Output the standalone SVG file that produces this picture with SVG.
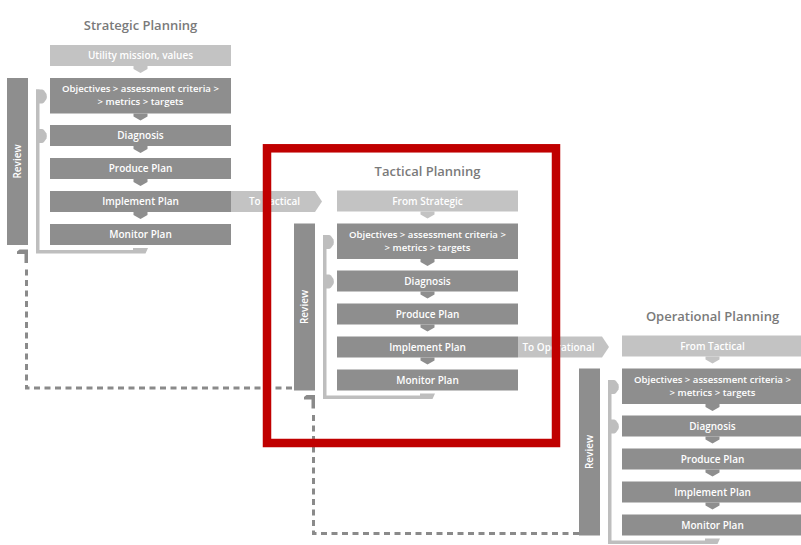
<svg xmlns="http://www.w3.org/2000/svg" width="801" height="545" viewBox="0 0 801 545">
<defs>
<style>
.dk{fill:#8e8e8e}
.lt{fill:#c3c3c3}
.br{fill:#bebebe}
.lbl{font-family:"Open Sans","DejaVu Sans",sans-serif;font-weight:600;font-size:10px;fill:#ffffff;text-anchor:middle}
.lbl2{font-size:9.6px}
.ttl{font-family:"Open Sans","DejaVu Sans",sans-serif;font-weight:600;font-size:13px;fill:#7a7a7a;text-anchor:middle}
.dash{fill:none;stroke:#8a8a8a;stroke-width:3;stroke-dasharray:6 4.5}
.hook{fill:#8a8a8a}
</style>
</defs>
<rect width="801" height="545" fill="#ffffff"/>

<!-- Connectors -->
<g id="connectors">
  <path class="dash" d="M292,388 H26.5 V265"/>
  <path class="hook" d="M17,251.5 L19.5,249.5 H28 V263 H24.5 V254 H17 Z"/>
  <path class="dash" d="M579,533.5 H313.5 V410.5"/>
  <path class="hook" d="M304,397 L306.5,395 H315 V408.5 H311.5 V399.5 H304 Z"/>

  <g id="s-flow">
    <path class="lt" d="M133.5,66 H147.5 V69 L140.5,73 L133.5,69 Z"/>
    <path class="dk" d="M133.5,113.5 H147.5 V116.5 L140.5,120.5 L133.5,116.5 Z"/>
    <path class="dk" d="M133.5,146 H147.5 V149 L140.5,153 L133.5,149 Z"/>
    <path class="dk" d="M133.5,179 H147.5 V182 L140.5,186 L133.5,182 Z"/>
    <path class="dk" d="M133.5,212 H147.5 V215 L140.5,219 L133.5,215 Z"/>
    <path class="br" d="M36,89.5 V253.5 H145.5 L148,248 H133 V250 H39.5 V89.5 Z"/>
    <path class="br" d="M36,89.5 H42 Q43,89.5 44,90.5 L46.5,94 Q47.2,96.5 46.5,99 L44,102.5 Q43,103.5 42,103.5 H36 Z"/>
    <path class="br" d="M36,129 H42 Q43,129 44,130 L46.5,133.5 Q47.2,136 46.5,138.5 L44,142 Q43,143 42,143 H36 Z"/>
  </g>
  <g id="t-flow" transform="translate(287,145.5)">
    <path class="lt" d="M133.5,66 H147.5 V69 L140.5,73 L133.5,69 Z"/>
    <path class="dk" d="M133.5,113.5 H147.5 V116.5 L140.5,120.5 L133.5,116.5 Z"/>
    <path class="dk" d="M133.5,146 H147.5 V149 L140.5,153 L133.5,149 Z"/>
    <path class="dk" d="M133.5,179 H147.5 V182 L140.5,186 L133.5,182 Z"/>
    <path class="dk" d="M133.5,212 H147.5 V215 L140.5,219 L133.5,215 Z"/>
    <path class="br" d="M36,89.5 V253.5 H145.5 L148,248 H133 V250 H39.5 V89.5 Z"/>
    <path class="br" d="M36,89.5 H42 Q43,89.5 44,90.5 L46.5,94 Q47.2,96.5 46.5,99 L44,102.5 Q43,103.5 42,103.5 H36 Z"/>
    <path class="br" d="M36,129 H42 Q43,129 44,130 L46.5,133.5 Q47.2,136 46.5,138.5 L44,142 Q43,143 42,143 H36 Z"/>
  </g>
  <g id="o-flow" transform="translate(572,290.5)">
    <path class="lt" d="M133.5,66 H147.5 V69 L140.5,73 L133.5,69 Z"/>
    <path class="dk" d="M133.5,113.5 H147.5 V116.5 L140.5,120.5 L133.5,116.5 Z"/>
    <path class="dk" d="M133.5,146 H147.5 V149 L140.5,153 L133.5,149 Z"/>
    <path class="dk" d="M133.5,179 H147.5 V182 L140.5,186 L133.5,182 Z"/>
    <path class="dk" d="M133.5,212 H147.5 V215 L140.5,219 L133.5,215 Z"/>
    <path class="br" d="M36,89.5 V253.5 H145.5 L148,248 H133 V250 H39.5 V89.5 Z"/>
    <path class="br" d="M36,89.5 H42 Q43,89.5 44,90.5 L46.5,94 Q47.2,96.5 46.5,99 L44,102.5 Q43,103.5 42,103.5 H36 Z"/>
    <path class="br" d="M36,129 H42 Q43,129 44,130 L46.5,133.5 Q47.2,136 46.5,138.5 L44,142 Q43,143 42,143 H36 Z"/>
  </g>
  <g id="to-tactical">
    <path class="lt" d="M231,191 H315 L322,201.5 L315,212 H231 Z"/>
    <text class="lbl" x="274.5" y="205">To Tactical</text>
  </g>
  <g id="to-operational" transform="translate(287,145.5)">
    <path class="lt" d="M231,191 H315 L322,201.5 L315,212 H231 Z"/>
    <text class="lbl" x="271.5" y="205">To Operational</text>
  </g>
</g>

<!-- Strategic Planning -->
<g id="strategic">
  <text id="s-title" class="ttl" x="140.5" y="30">Strategic Planning</text>
  <g id="s-mission"><rect class="lt" x="50" y="45" width="181" height="21"/><text class="lbl" x="140.5" y="59">Utility mission, values</text></g>
  <g id="s-objectives"><rect class="dk" x="50" y="78" width="181" height="35.5"/><text class="lbl lbl2" x="140.5" y="92">Objectives &gt; assessment criteria &gt;</text><text class="lbl lbl2" x="140.5" y="105.2">&gt; metrics &gt; targets</text></g>
  <g id="s-diagnosis"><rect class="dk" x="50" y="125" width="181" height="21"/><text class="lbl" x="140.5" y="139">Diagnosis</text></g>
  <g id="s-produce"><rect class="dk" x="50" y="158" width="181" height="21"/><text class="lbl" x="140.5" y="172">Produce Plan</text></g>
  <g id="s-implement"><rect class="dk" x="50" y="191" width="181" height="21"/><text class="lbl" x="140.5" y="205">Implement Plan</text></g>
  <g id="s-monitor"><rect class="dk" x="50" y="224" width="181" height="21"/><text class="lbl" x="140.5" y="238">Monitor Plan</text></g>
  <g id="s-review"><rect class="dk" x="7" y="78" width="21" height="167"/><text class="lbl" transform="translate(21,161.5) rotate(-90)">Review</text></g>
</g>

<!-- Tactical Planning -->
<g id="tactical" transform="translate(287,145.5)">
  <text id="t-title" class="ttl" x="140.5" y="30">Tactical Planning</text>
  <g id="t-from"><rect class="lt" x="50" y="45" width="181" height="21"/><text class="lbl" x="140.5" y="59">From Strategic</text></g>
  <g id="t-objectives"><rect class="dk" x="50" y="78" width="181" height="35.5"/><text class="lbl lbl2" x="140.5" y="92">Objectives &gt; assessment criteria &gt;</text><text class="lbl lbl2" x="140.5" y="105.2">&gt; metrics &gt; targets</text></g>
  <g id="t-diagnosis"><rect class="dk" x="50" y="125" width="181" height="21"/><text class="lbl" x="140.5" y="139">Diagnosis</text></g>
  <g id="t-produce"><rect class="dk" x="50" y="158" width="181" height="21"/><text class="lbl" x="140.5" y="172">Produce Plan</text></g>
  <g id="t-implement"><rect class="dk" x="50" y="191" width="181" height="21"/><text class="lbl" x="140.5" y="205">Implement Plan</text></g>
  <g id="t-monitor"><rect class="dk" x="50" y="224" width="181" height="21"/><text class="lbl" x="140.5" y="238">Monitor Plan</text></g>
  <g id="t-review"><rect class="dk" x="7" y="78" width="21" height="167"/><text class="lbl" transform="translate(21,161.5) rotate(-90)">Review</text></g>
</g>

<!-- Operational Planning -->
<g id="operational" transform="translate(572,290.5)">
  <text id="o-title" class="ttl" x="140.5" y="30">Operational Planning</text>
  <g id="o-from"><rect class="lt" x="50" y="45" width="181" height="21"/><text class="lbl" x="140.5" y="59">From Tactical</text></g>
  <g id="o-objectives"><rect class="dk" x="50" y="78" width="181" height="35.5"/><text class="lbl lbl2" x="140.5" y="92">Objectives &gt; assessment criteria &gt;</text><text class="lbl lbl2" x="140.5" y="105.2">&gt; metrics &gt; targets</text></g>
  <g id="o-diagnosis"><rect class="dk" x="50" y="125" width="181" height="21"/><text class="lbl" x="140.5" y="139">Diagnosis</text></g>
  <g id="o-produce"><rect class="dk" x="50" y="158" width="181" height="21"/><text class="lbl" x="140.5" y="172">Produce Plan</text></g>
  <g id="o-implement"><rect class="dk" x="50" y="191" width="181" height="21"/><text class="lbl" x="140.5" y="205">Implement Plan</text></g>
  <g id="o-monitor"><rect class="dk" x="50" y="224" width="181" height="21"/><text class="lbl" x="140.5" y="238">Monitor Plan</text></g>
  <g id="o-review"><rect class="dk" x="7" y="78" width="21" height="167"/><text class="lbl" transform="translate(21,161.5) rotate(-90)">Review</text></g>
</g>

<rect id="highlight" x="267" y="148.3" width="289" height="294.7" fill="none" stroke="#c00000" stroke-width="8.5"/>
</svg>
